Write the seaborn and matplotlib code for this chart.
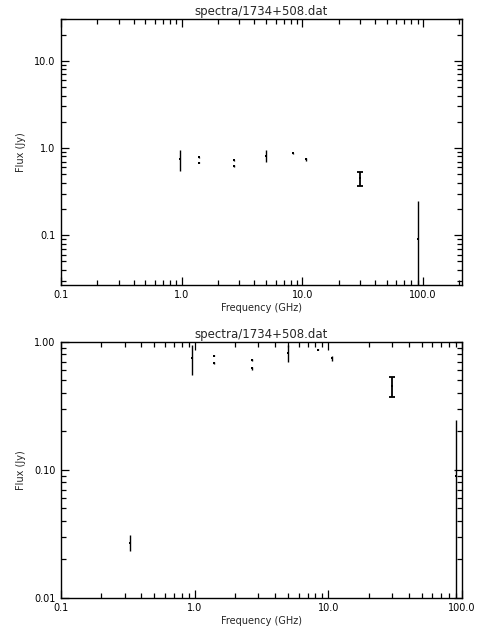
import numpy as np
import pandas as pd
import seaborn as sns
import matplotlib
matplotlib.use("Agg")
import matplotlib.pyplot as plt
from matplotlib.ticker import FixedLocator, LogLocator, NullFormatter

freq_ghz = [0.327, 0.96, 1.4, 1.4, 2.7, 2.7, 5.0, 8.4, 10.7, 30.0, 90.0]
flux_jy = [0.027, 0.75, 0.78, 0.68, 0.72, 0.62, 0.82, 0.87, 0.74, 0.45, 0.09]
flux_err = [0.004, 0.20, 0.01, 0.01, 0.015, 0.015, 0.12, 0.01, 0.035, 0.08, 0.155]
capped = [False, False, False, False, False, False, False, False, False, True, False]

title = "spectra/1734+508.dat"
x_ticks = [0.1, 1.0, 10.0, 100.0]
x_labels = ["0.1", "1.0", "10.0", "100.0"]
top_y_ticks = [0.1, 1.0, 10.0]
top_y_labels = ["0.1", "1.0", "10.0"]
bot_y_ticks = [0.01, 0.1, 1.0]
bot_y_labels = ["0.01", "0.10", "1.00"]

df = pd.DataFrame({"freq": freq_ghz, "flux": flux_jy, "err": flux_err, "capped": capped})

sns.set_theme(style="ticks")
plt.rcParams['font.family'] = ['DejaVu Sans']
plt.rcParams['xtick.direction'] = 'in'
plt.rcParams['ytick.direction'] = 'in'

fig = plt.figure(figsize=(4.8, 6.4), dpi=100)
ax_top = fig.add_axes([0.127, 0.555, 0.8355, 0.415])
ax_bot = fig.add_axes([0.127, 0.066, 0.8355, 0.400])


def draw_panel(ax, data, xlim, ylim, yticks, ylabels):
    for cap, sub in data.groupby("capped"):
        ax.errorbar(sub["freq"], sub["flux"], yerr=sub["err"], fmt="none",
                    ecolor="black", elinewidth=1.3 if cap else 1.0,
                    capsize=2.5 if cap else 0, capthick=1.3)
    sns.scatterplot(data=data, x="freq", y="flux", ax=ax, marker="s", s=3,
                    color="black", edgecolor="black", linewidth=0, legend=False)
    ax.set_xscale("log")
    ax.set_yscale("log")
    ax.set_xlim(*xlim)
    ax.set_ylim(*ylim)
    ax.xaxis.set_major_locator(FixedLocator(x_ticks))
    ax.set_xticklabels(x_labels)
    ax.yaxis.set_major_locator(FixedLocator(yticks))
    ax.set_yticklabels(ylabels)
    ax.xaxis.set_minor_locator(LogLocator(base=10, subs=np.arange(2, 10)))
    ax.yaxis.set_minor_locator(LogLocator(base=10, subs=np.arange(2, 10)))
    ax.xaxis.set_minor_formatter(NullFormatter())
    ax.yaxis.set_minor_formatter(NullFormatter())
    ax.tick_params(which="both", direction="in", top=True, right=True,
                   colors="black", labelsize=7, width=0.9, pad=4)
    ax.tick_params(which="major", length=6)
    ax.tick_params(which="minor", length=3.5)
    for sp in ax.spines.values():
        sp.set_color("black")
        sp.set_linewidth(1.0)
    ax.set_xlabel("Frequency (GHz)", fontsize=7, labelpad=2)
    ax.set_ylabel("Flux (Jy)", fontsize=7, labelpad=6)
    ax.set_title(title, fontsize=8.5, pad=3)


draw_panel(ax_top, df[df["freq"] > 0.5], (0.1, 210), (0.027, 30),
           top_y_ticks, top_y_labels)
draw_panel(ax_bot, df, (0.1, 100), (0.01, 1.0), bot_y_ticks, bot_y_labels)

fig.savefig("out.png", dpi=100, facecolor="white")
